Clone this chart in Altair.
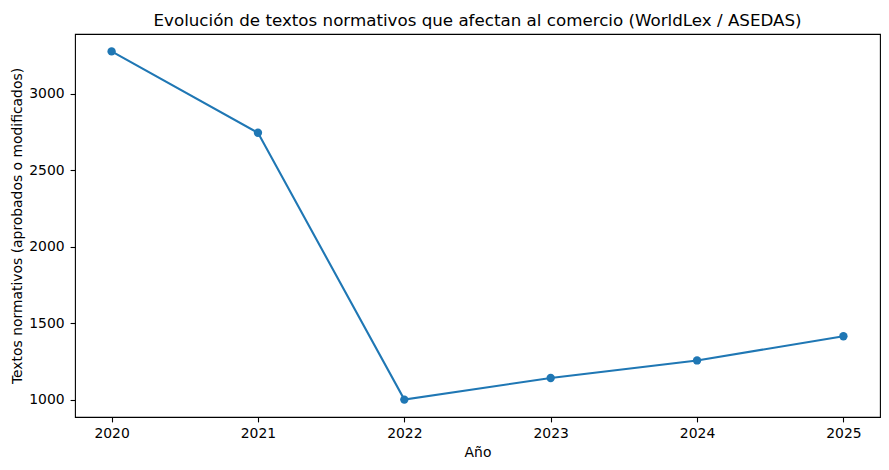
import altair as alt
import pandas as pd

years = [2020, 2021, 2022, 2023, 2024, 2025]
textos = [3276, 2744, 1000, 1141, 1256, 1414]
y_ticks = [1000, 1500, 2000, 2500, 3000]

df = pd.DataFrame({"year": years, "textos": textos})

ymin, ymax = min(textos), max(textos)
m = 0.05 * (ymax - ymin)
xm = 0.05 * (max(years) - min(years))

W, H = 805, 383
FONT = "DejaVu Sans"
BLUE = "#1f77b4"

x = alt.X(
    "year:Q",
    scale=alt.Scale(domain=[min(years) - xm, max(years) + xm], nice=False, zero=False),
    axis=alt.Axis(
        values=years, format="d", title="Año", grid=False, domain=False,
        tickColor="black", tickWidth=1.1, tickSize=4.9, labelPadding=4.9,
        labelFont=FONT, labelFontSize=13.9, labelColor="black",
        titleFont=FONT, titleFontSize=13.9, titleFontWeight="normal", titleColor="black",
        titleX=W / 2, titleY=35, titleBaseline="middle", titleAlign="center",
    ),
)
y = alt.Y(
    "textos:Q",
    scale=alt.Scale(domain=[ymin - m, ymax + m], nice=False, zero=False),
    axis=alt.Axis(
        values=y_ticks, format="d", title="Textos normativos (aprobados o modificados)",
        grid=False, domain=False,
        tickColor="black", tickWidth=1.1, tickSize=4.9, labelPadding=6,
        labelFont=FONT, labelFontSize=13.9, labelColor="black",
        titleFont=FONT, titleFontSize=13.9, titleFontWeight="normal", titleColor="black",
        titleX=-58, titleY=H / 2, titleAngle=270, titleBaseline="middle", titleAlign="center",
    ),
)

base = alt.Chart(df)
line = base.mark_line(color=BLUE, strokeWidth=2.1).encode(x=x, y=y)
pts = base.mark_point(color=BLUE, filled=True, opacity=1, size=70).encode(x=x, y=y)

chart = (
    alt.layer(line, pts)
    .properties(
        width=W,
        height=H,
        background="white",
        autosize=alt.AutoSizeParams(type="none"),
        padding={"left": 67, "top": 26, "right": 1, "bottom": 45},
        title=alt.TitleParams(
            "Evolución de textos normativos que afectan al comercio (WorldLex / ASEDAS)",
            font=FONT, fontSize=16.7, fontWeight="normal", color="black",
            anchor="middle", baseline="bottom", offset=6, dy=19,
        ),
    )
    .configure_view(stroke="black", strokeWidth=1.1, strokeOpacity=1)
)

chart.save("out.html", embed_options={"renderer": "svg", "actions": False})
